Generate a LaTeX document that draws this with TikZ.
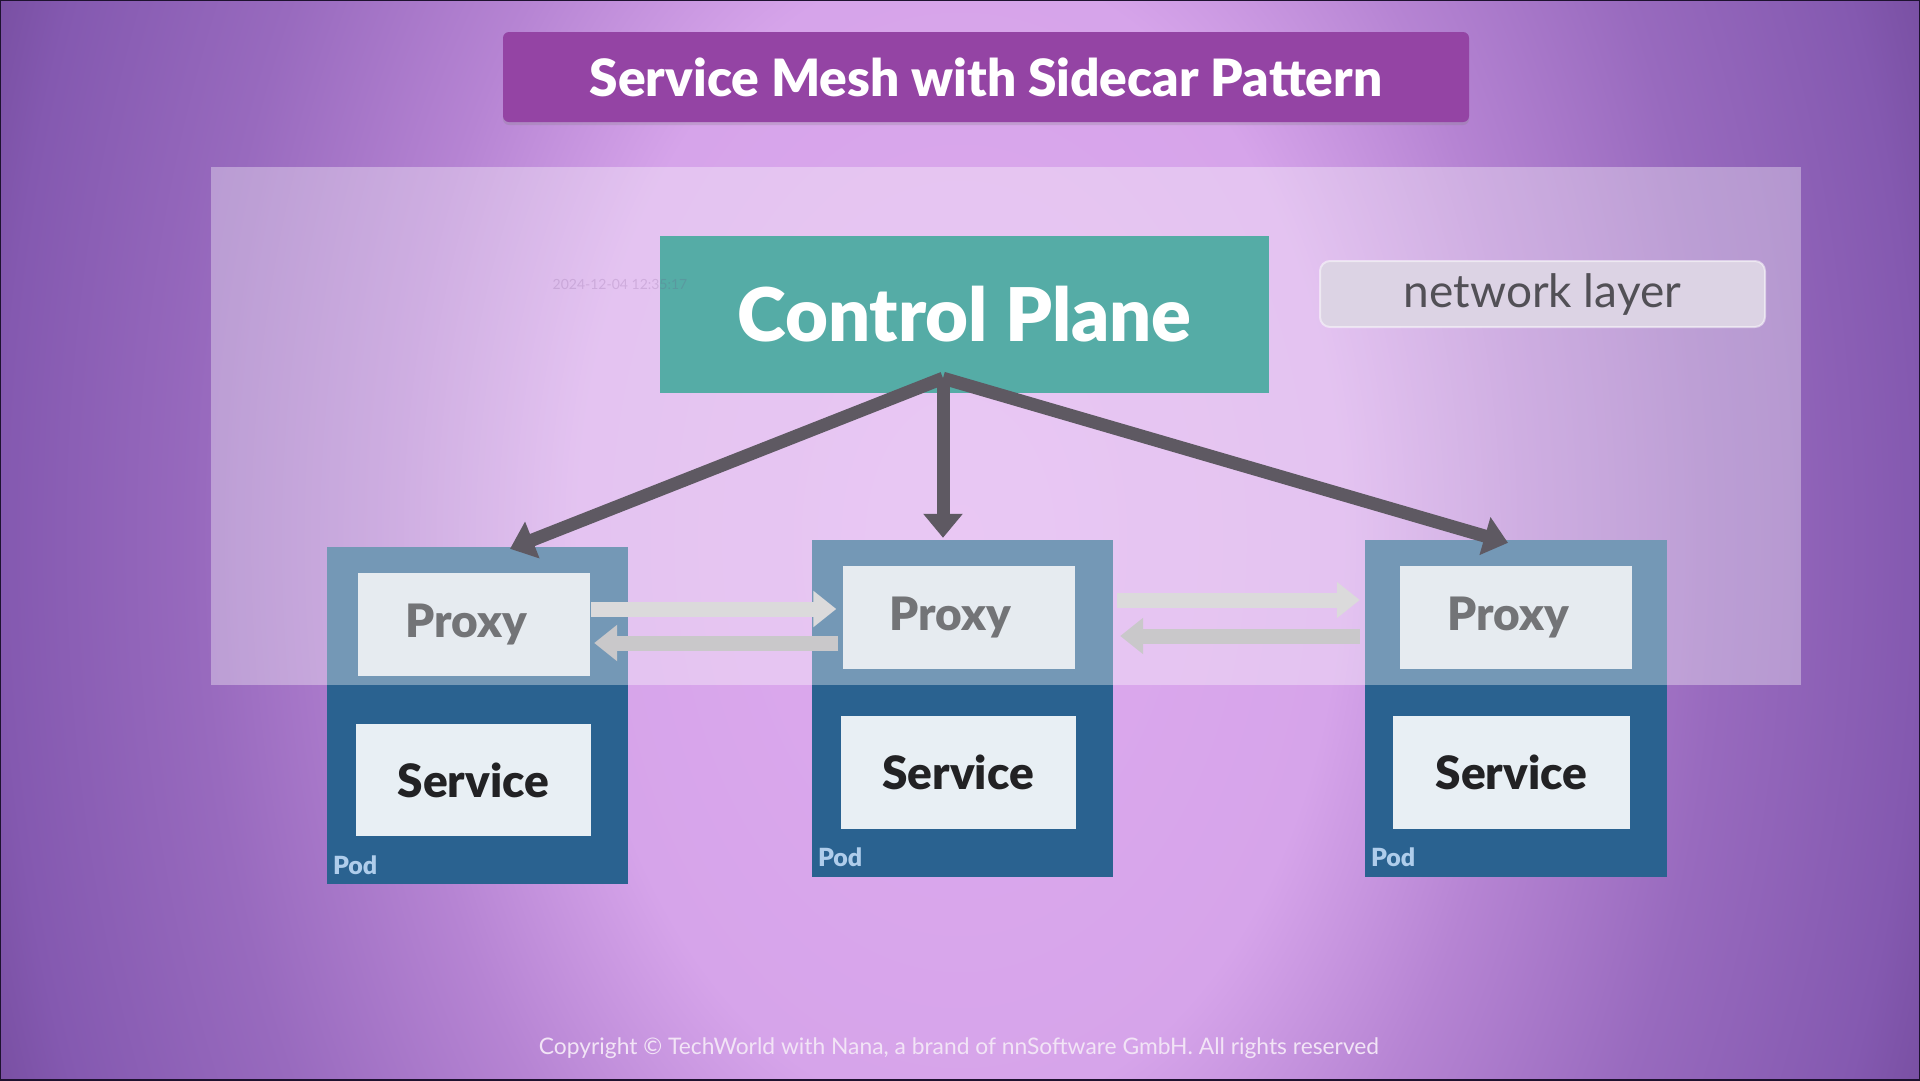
\documentclass[tikz,border=0pt]{standalone}
\usepackage{fontspec}
\setmainfont{Lato}
\newfontfamily\blackfont{Lato Black}
\usetikzlibrary{arrows.meta,calc,shadows}
\definecolor{bg0}{RGB}{222,170,238}
\definecolor{bg1}{RGB}{214,164,234}
\definecolor{bg2}{RGB}{182,132,211}
\definecolor{bg3}{RGB}{152,106,190}
\definecolor{bg4}{RGB}{132,89,176}
\definecolor{bg5}{RGB}{112,72,152}
\definecolor{framec}{RGB}{30,18,48}
\definecolor{titlec}{RGB}{148,68,164}
\definecolor{podblue}{RGB}{42,98,144}
\definecolor{svcfill}{RGB}{232,239,244}
\definecolor{svctext}{RGB}{34,34,36}
\definecolor{podlab}{RGB}{175,205,235}
\definecolor{proxyfill}{RGB}{230,235,240}
\definecolor{proxytext}{RGB}{115,116,119}
\definecolor{cpteal}{RGB}{85,172,166}
\definecolor{ctrlgray}{RGB}{94,89,98}
\definecolor{garrowA}{RGB}{219,218,219}
\definecolor{garrowB}{RGB}{201,200,202}
\definecolor{nlfill}{RGB}{220,211,228}
\definecolor{nltext}{RGB}{82,80,86}
\definecolor{footc}{RGB}{242,228,246}
\definecolor{stampc}{RGB}{110,70,130}
\pgfdeclareradialshading{bgshade}{\pgfpoint{0bp}{0bp}}{color(0bp)=(bg0); color(9bp)=(bg1); color(13.2bp)=(bg2); color(17.9bp)=(bg3); color(22.6bp)=(bg4); color(25.5bp)=(bg5); color(50bp)=(bg5)}
\tikzset{
  podbox/.style={fill=podblue, minimum width=301pt, minimum height=337pt, inner sep=0pt},
  svcbox/.style={fill=svcfill, text=svctext, minimum width=235pt, minimum height=112pt, inner sep=0pt, font=\fontsize{46pt}{52pt}\blackfont},
  proxybox/.style={fill=proxyfill, text=proxytext, minimum width=232pt, minimum height=103pt, inner sep=0pt, font=\fontsize{46pt}{52pt}\blackfont},
  podlabel/.style={text=podlab, inner sep=0pt, font=\fontsize{25pt}{28pt}\blackfont},
  netbg/.style={fill=white, fill opacity=0.35, minimum width=1590pt, minimum height=518pt, inner sep=0pt},
  ctrlarrow/.style={draw=ctrlgray, line width=13pt, -{Triangle[width=38pt,length=24pt]}},
  grayarrow/.style={line width=15pt, -{Triangle[width=35pt,length=23pt]}},
}
\begin{document}
\begin{tikzpicture}[x=1pt,y=-1pt]
\useasboundingbox (0,0) rectangle (1920,1080);
\begin{scope}
\clip (0,0) rectangle (1920,1080);
\shade[shading=bgshade] (-100,-1060) rectangle (2020,2140);
\end{scope}
\draw[framec, line width=2.5pt] (0,0) rectangle (1920,1080);

% title
\node[fill=titlec, rounded corners=6pt, minimum width=966pt, minimum height=90pt, inner sep=0pt,
  drop shadow={opacity=0.25, shadow xshift=0pt, shadow yshift=-3pt},
  text=white, font=\fontsize{51.4pt}{56pt}\blackfont] (title) at (986,77) {Service Mesh with Sidecar Pattern};

% pods
\node[podbox] (pod1) at (477.5,715.5) {};
\node[podbox] (pod2) at (962.5,708.5) {};
\node[podbox, minimum width=302pt] (pod3) at (1516,708.5) {};
\node[svcbox] (svc1) at (473.5,780) {Service};
\node[svcbox, minimum height=113pt] (svc2) at (958,772.5) {Service};
\node[svcbox, minimum width=237pt, minimum height=113pt] (svc3) at (1511.5,772.5) {Service};
\node[podlabel, anchor=base west] (pl1) at ($(pod1.south west)+(6,-10)$) {Pod};
\node[podlabel, anchor=base west] (pl2) at ($(pod2.south west)+(6,-11)$) {Pod};
\node[podlabel, anchor=base west] (pl3) at ($(pod3.south west)+(6,-11)$) {Pod};

% network layer translucent band
\node[netbg] (net) at (1006,426) {};

% control plane
\node[fill=cpteal, minimum width=609pt, minimum height=157pt, inner sep=0pt, text=white,
  font=\fontsize{74pt}{80pt}\blackfont] (cp) at (964.5,314.5) {Control Plane};

% proxies
\node[proxybox] (px1) at (474,624.5) {Proxy\hspace*{16pt}};
\node[proxybox] (px2) at (958.5,617.5) {Proxy\hspace*{16pt}};
\node[proxybox] (px3) at (1516,617.5) {Proxy\hspace*{16pt}};

% network layer label
\node[fill=nlfill, draw=white, draw opacity=0.5, line width=2pt, rounded corners=10pt,
  minimum width=445pt, minimum height=66pt, inner sep=0pt, text=nltext,
  font=\fontsize{46pt}{50pt}\selectfont] (nl) at (1542.5,294) {network layer};

% control plane arrows
\coordinate (cpo) at ($(cp.south)+(-21.5,-15)$);
\coordinate (t1) at ($(pod1.north)+(32.5,2)$);
\coordinate (t2) at ($(pod2.north)+(-19.5,-2)$);
\coordinate (t3) at ($(pod3.north)+(-8,3)$);
\draw[ctrlarrow] (cpo) -- (t1);
\draw[ctrlarrow] (cpo) -- (t3);
\draw[ctrlarrow] (cpo) -- (t2);

% proxy-to-proxy arrows
\draw[grayarrow, draw=garrowA] ($(px1.east)+(1,-15.5)$) -- ($(px2.west)+(-6,-8.5)$);
\draw[grayarrow, draw=garrowB] ($(px2.west)+(-4,25.5)$) -- ($(px1.east)+(4,18.5)$);
\draw[grayarrow, draw=garrowA] ($(pod2.east |- px2.east)+(4,-17.5)$) -- ($(pod3.west |- px3.west)+(-5,-17.5)$);
\draw[grayarrow, draw=garrowB] ($(pod3.west |- px3.west)+(-5,18.5)$) -- ($(pod2.east |- px2.east)+(7,18.5)$);

% faint timestamp
\node[text=stampc, text opacity=0.18, inner sep=0pt, font=\fontsize{14pt}{16pt}\selectfont] (stamp) at (620,284) {2024-12-04 12:35:17};

% footer
\node[text=footc, inner sep=0pt, font=\fontsize{22.8pt}{26pt}\selectfont] (foot) at (959,1048) {Copyright © TechWorld with Nana, a brand of nnSoftware GmbH. All rights reserved};
\end{tikzpicture}
\end{document}
